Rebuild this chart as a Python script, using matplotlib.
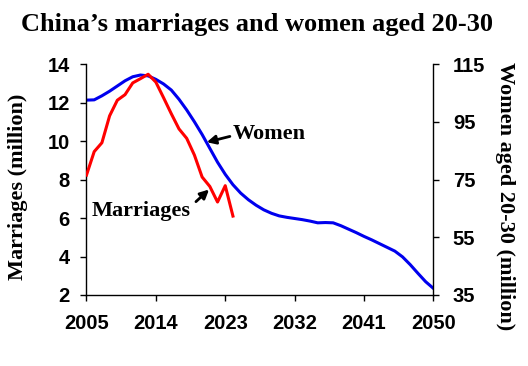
import numpy as np
import matplotlib.pyplot as plt

#==========================================================================
# Data
#==========================================================================
marriage_years = list(range(2005, 2025))
marriages = [8.23, 9.45, 9.91, 11.31, 12.12, 12.41, 13.02, 13.24, 13.47, 13.06,
             12.25, 11.42, 10.63, 10.14, 9.27, 8.13, 7.64, 6.83, 7.68, 6.10]

women_years = list(range(2005, 2051))
women = [102.5, 102.6, 104.0, 105.6, 107.4, 109.2, 110.6, 111.2, 110.9, 109.7,
         108.1, 106.0, 102.8, 99.1, 95.0, 90.6, 85.8, 81.0, 76.8, 73.2,
         70.3, 68.0, 66.1, 64.5, 63.3, 62.4, 61.9, 61.5, 61.1, 60.6,
         60.0, 60.1, 60.0, 59.0, 57.8, 56.6, 55.3, 54.1, 52.8, 51.5,
         50.2, 48.2, 45.5, 42.5, 39.6, 37.3]

x_ticks = [2005, 2014, 2023, 2032, 2041, 2050]
left_ticks = [2, 4, 6, 8, 10, 12, 14]
right_ticks = [35, 55, 75, 95, 115]

serif = 'Liberation Serif'
sans = 'Liberation Sans'

#==========================================================================
# Plot
#==========================================================================
fig = plt.figure(figsize=(5.28, 3.66), dpi=100)
ax = fig.add_axes([0.1638, 0.194, 0.657, 0.631])
ax2 = ax.twinx()

ax.plot(marriage_years, marriages, color='#ff0000', lw=2.2, zorder=3)
ax2.plot(women_years, women, color='#0000ee', lw=2.2)

# red on top of blue
ax.set_zorder(ax2.get_zorder() + 1)
ax.patch.set_visible(False)

ax.set_xlim(2005, 2050)
ax.set_ylim(2, 14)
ax2.set_ylim(35, 115)
ax.set_xticks(x_ticks)
ax.set_yticks(left_ticks)
ax2.set_yticks(right_ticks)

for s in ['top', 'right']:
    ax.spines[s].set_visible(False)
for s in ['top', 'left', 'bottom']:
    ax2.spines[s].set_visible(False)
for s in ['left', 'bottom']:
    ax.spines[s].set_linewidth(1.0)
ax2.spines['right'].set_linewidth(1.0)

ax.tick_params(axis='x', direction='out', length=4, width=1, pad=10)
ax.tick_params(axis='y', direction='out', length=4, width=1, pad=8)
ax2.tick_params(axis='y', direction='out', length=4, width=1, pad=10)
for lab in ax.get_xticklabels() + ax.get_yticklabels() + ax2.get_yticklabels():
    lab.set_fontfamily(sans)
    lab.set_fontweight('bold')
    lab.set_fontsize(14.5)

ax.set_ylabel('Marriages (million)', fontfamily=serif, fontweight='bold', fontsize=16)
ax.yaxis.set_label_coords(-0.17, 0.47)
ax2.set_ylabel('Women aged 20-30 (million)', fontfamily=serif, fontweight='bold',
               fontsize=16, rotation=270, va='center')
ax2.yaxis.set_label_coords(1.207, 0.43)

# annotations
ax.text(2024.0, 10.35, 'Women', fontfamily=serif, fontweight='bold', fontsize=16,
        ha='left', va='center')
ax.annotate('', xy=(2020.6, 9.94), xytext=(2023.6, 10.24),
            arrowprops=dict(arrowstyle='-|>', color='black', lw=2, mutation_scale=13,
                            shrinkA=0, shrinkB=0))
ax.text(2005.67, 6.38, 'Marriages', fontfamily=serif, fontweight='bold', fontsize=16,
        ha='left', va='center')
ax.annotate('', xy=(2020.9, 7.48), xytext=(2019.2, 6.85),
            arrowprops=dict(arrowstyle='-|>', color='black', lw=2, mutation_scale=13,
                            shrinkA=0, shrinkB=0))

fig.text(0.486, 0.932, 'China\u2019s marriages and women aged 20-30', fontfamily=serif,
         fontweight='bold', fontsize=19, ha='center', va='center')

plt.savefig('out.png', dpi=100)
